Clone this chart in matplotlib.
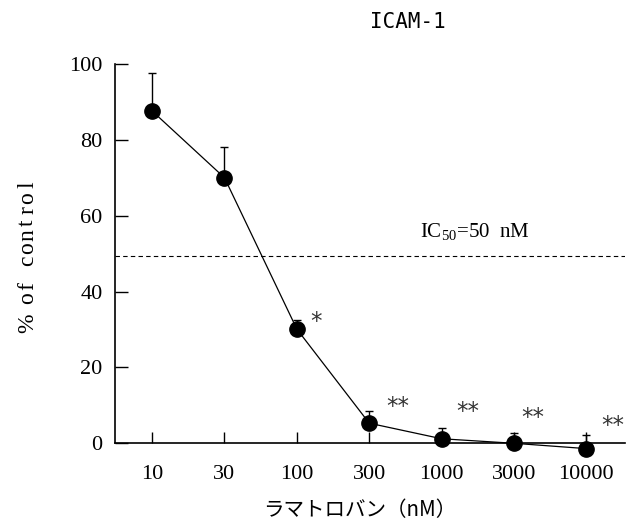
import matplotlib
matplotlib.use("Agg")
import matplotlib.pyplot as plt

# Ramatroban dose response, ICAM-1 expression (% of control)
doses = ["10", "30", "100", "300", "1000", "3000", "10000"]
mean_pct = [87.6, 70.0, 30.1, 5.3, 1.2, 0.0, -1.4]
err_up = [10.1, 8.2, 2.3, 3.1, 2.8, 2.7, 3.7]
sig_marks = ["", "", "*", "**", "**", "**", "**"]
ic50_level = 49.3

SERIF = "Liberation Serif"
plt.rcParams["mathtext.fontset"] = "custom"
plt.rcParams["mathtext.rm"] = SERIF

W, H = 626, 524
fig = plt.figure(figsize=(W / 100, H / 100), dpi=100)
ax = fig.add_axes([0.184, 0.154, 0.814, 0.724])

x = list(range(len(doses)))
lo = [0] * len(doses)
ax.errorbar(x, mean_pct, yerr=[lo, err_up], fmt="o-", color="black",
            markersize=11, linewidth=0.9, elinewidth=1.0, capsize=3.2,
            capthick=1.0, clip_on=False, zorder=3)

ax.axhline(ic50_level, color="black", linewidth=0.8, linestyle=(0, (4.0, 2.9)))
ax.text(3.70, ic50_level + 4.9, r"IC$_{50}$=50  nM", fontsize=15,
        family=SERIF, va="baseline", ha="left")

# significance marks, placed up and to the right of each point
star_dx = [0, 0, 0.26, 0.39, 0.36, 0.26, 0.36]
star_y = [0, 0, 32.1, 9.7, 8.3, 6.8, 4.8]
for i, mark in enumerate(sig_marks):
    if mark:
        ax.text(i + star_dx[i], star_y[i], mark, fontsize=16.5, color="#333333",
                family="DejaVu Sans", ha="center", va="center", clip_on=False)

ax.set_xlim(-0.51, 6.53)
ax.set_ylim(0, 100)
ax.set_xticks(x)
ax.set_xticklabels(doses)
ax.set_yticks([0, 20, 40, 60, 80, 100])

for side in ["top", "right"]:
    ax.spines[side].set_visible(False)
for side in ["left", "bottom"]:
    ax.spines[side].set_linewidth(1.2)

ax.tick_params(axis="x", direction="in", length=8, width=1.0, pad=15.5,
               labelsize=16)
ax.tick_params(axis="y", direction="in", length=9, width=1.0, pad=9,
               labelsize=16)
for lab in ax.get_xticklabels() + ax.get_yticklabels():
    lab.set_family(SERIF)

# y label set in fixed pitch, one glyph per cell, reading bottom to top
ylabel = "% of control"
pitch = 12.6
y0 = 330
for i, ch in enumerate(ylabel):
    if ch == " ":
        continue
    yc = y0 - (i + 0.5) * pitch
    fig.text(33 / W, 1 - yc / H, ch, fontsize=17, family=SERIF,
             rotation=90, rotation_mode="anchor", ha="center", va="baseline")

fig.text(0.575, 0.027, "ラマトロバン（nM）", fontsize=14.8,
         family=["Noto Sans CJK JP", "DejaVu Sans"], ha="center", va="center")
fig.text(0.652, 0.958, "ICAM-1", fontsize=15, family="DejaVu Sans Mono",
         ha="center", va="center")

fig.savefig("out.png", dpi=100)
plt.close(fig)
